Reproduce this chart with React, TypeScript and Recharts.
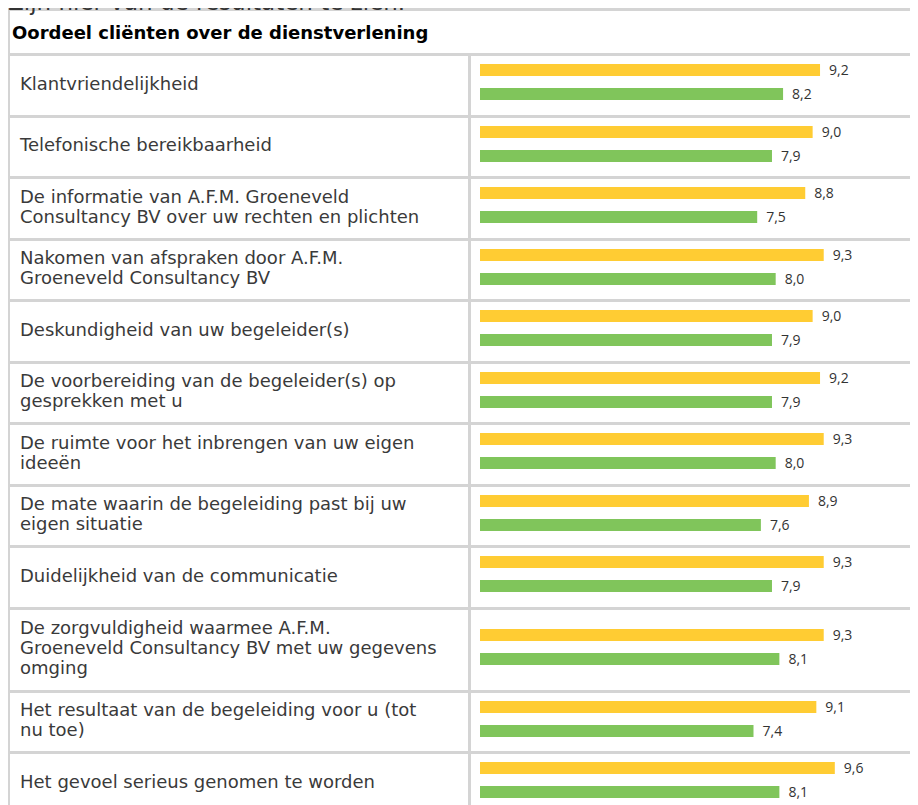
import { BarChart, Bar, XAxis, YAxis, LabelList } from 'recharts';

// Onderdelen van het klantonderzoek (regelafbreking zoals in de tabel)
const categories = [
    'Klantvriendelijkheid',
    'Telefonische bereikbaarheid',
    'De informatie van A.F.M. Groeneveld\nConsultancy BV over uw rechten en plichten',
    'Nakomen van afspraken door A.F.M.\nGroeneveld Consultancy BV',
    'Deskundigheid van uw begeleider(s)',
    'De voorbereiding van de begeleider(s) op\ngesprekken met u',
    'De ruimte voor het inbrengen van uw eigen\nideeën',
    'De mate waarin de begeleiding past bij uw\neigen situatie',
    'Duidelijkheid van de communicatie',
    'De zorgvuldigheid waarmee A.F.M.\nGroeneveld Consultancy BV met uw gegevens\nomging',
    'Het resultaat van de begeleiding voor u (tot\nnu toe)',
    'Het gevoel serieus genomen te worden',
];

const scoresGeel = [9.2, 9.0, 8.8, 9.3, 9.0, 9.2, 9.3, 8.9, 9.3, 9.3, 9.1, 9.6];
const scoresGroen = [8.2, 7.9, 7.5, 8.0, 7.9, 7.9, 8.0, 7.6, 7.9, 8.1, 7.4, 8.1];

const title = 'Oordeel cliënten over de dienstverlening';
const intro = 'Zijn hier van de resultaten te zien.';

const BORDER = '3px solid #d4d4d4';
const YELLOW = '#ffcc33';
const GREEN = '#80c55b';

const formatScore = (v: any) => Number(v).toFixed(1).replace('.', ',');

const labelStyle = { fill: '#333333', fontSize: 14, fontFamily: '"Open Sans", sans-serif' };

const ScoreRow = ({ label, geel, groen }: { label: string; geel: number; groen: number }) => {
    const lines = label.split('\n').length;
    const h = lines >= 3 ? 83 : 61.5;
    const data = [{ name: label, geel, groen }];
    return (
        <div style={{ display: 'flex', height: h, borderTop: BORDER, boxSizing: 'border-box' }}>
            <div
                style={{
                    width: 458,
                    flex: 'none',
                    boxSizing: 'border-box',
                    paddingLeft: 10,
                    paddingBottom: 3,
                    display: 'flex',
                    alignItems: 'center',
                    whiteSpace: 'pre-line',
                    fontSize: 18,
                    lineHeight: '20px',
                    color: '#3a3a3a',
                }}
            >
                {label}
            </div>
            <div style={{ borderLeft: BORDER, flex: 'none' }}>
                <BarChart
                    width={448}
                    height={h - 3}
                    layout="vertical"
                    data={data}
                    margin={{ top: 0, right: 69.4, bottom: 7, left: 9 }}
                    barGap={12}
                >
                    <XAxis type="number" domain={[0, 10]} hide />
                    <YAxis type="category" dataKey="name" hide />
                    <Bar dataKey="geel" fill={YELLOW} barSize={12} isAnimationActive={false}>
                        <LabelList dataKey="geel" position="right" offset={9} formatter={formatScore} style={labelStyle} />
                    </Bar>
                    <Bar dataKey="groen" fill={GREEN} barSize={12} isAnimationActive={false}>
                        <LabelList dataKey="groen" position="right" offset={9} formatter={formatScore} style={labelStyle} />
                    </Bar>
                </BarChart>
            </div>
        </div>
    );
};

export default function App() {
    return (
        <div
            style={{
                position: 'relative',
                width: 918,
                height: 805,
                overflow: 'hidden',
                margin: '-8px 0 0 -8px',
                background: '#fff',
                fontFamily: '"DejaVu Sans", Verdana, sans-serif',
            }}
        >
            <div
                style={{
                    position: 'absolute',
                    left: 8,
                    top: -9,
                    zIndex: 1,
                    fontSize: 23,
                    lineHeight: '23px',
                    color: '#333',
                    whiteSpace: 'nowrap',
                }}
            >
                {intro}
            </div>
            <div
                style={{
                    position: 'absolute',
                    left: 7,
                    top: 8,
                    width: 960,
                    borderLeft: BORDER,
                }}
            >
                <div
                    style={{
                        height: 45,
                        borderTop: BORDER,
                        boxSizing: 'border-box',
                        display: 'flex',
                        alignItems: 'center',
                        paddingLeft: 2,
                        fontWeight: 'bold',
                        fontSize: 18,
                        color: '#000',
                    }}
                >
                    {title}
                </div>
                {categories.map((c, i) => (
                    <ScoreRow key={c} label={c} geel={scoresGeel[i]} groen={scoresGroen[i]} />
                ))}
            </div>
        </div>
    );
}
